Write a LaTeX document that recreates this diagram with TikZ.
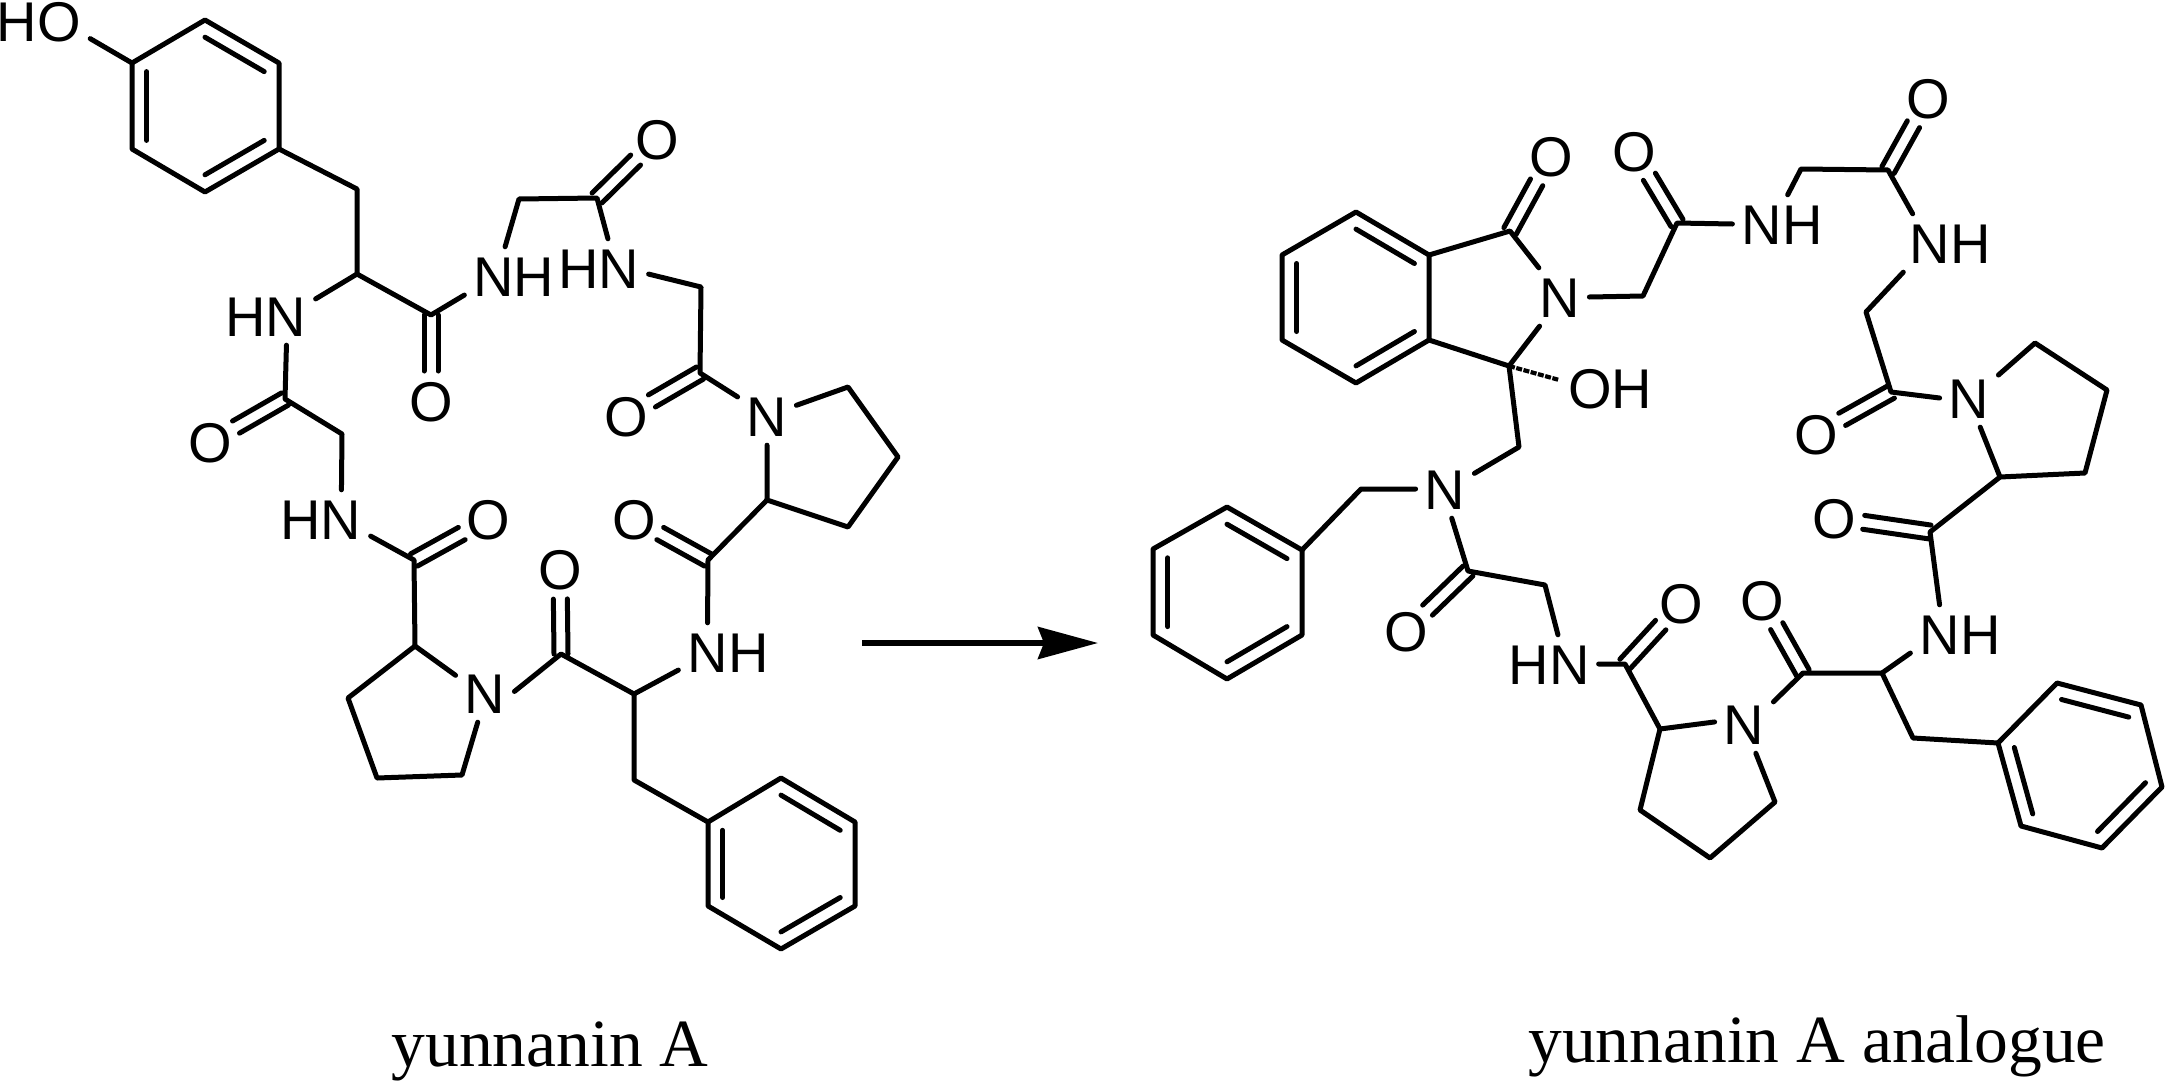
\documentclass[tikz,border=0pt]{standalone}
\usepackage{fontspec}
\setmainfont{Liberation Serif}
\newfontfamily\atomfont{Liberation Sans}
\usepackage{tikz}
\usetikzlibrary{calc}
\usetikzlibrary{arrows.meta}

% Double bond from a carbon to its oxygen
\newcommand{\dbond}[2]{%
	\draw[bond,shorten >=30pt]($(#1)!7pt!90:(#2)$)--($(#2)!7pt!-90:(#1)$);
	\draw[bond,shorten >=30pt]($(#1)!7pt!-90:(#2)$)--($(#2)!7pt!90:(#1)$);}
% Inner line of an aromatic ring, pulled towards the ring centre
\newcommand{\ringline}[3]{\draw[bond]($(#1)!.2!(#3)$)--($(#2)!.2!(#3)$);}

\begin{document}
\begin{tikzpicture}
		[
		x=1pt,y=-1pt,
		bond/.style={line width=5pt,line cap=round,line join=round},
		atom/.style={font=\atomfont\fontsize{56pt}{60pt}\selectfont,inner sep=9pt,text height=40pt,text depth=0pt},
		caption/.style={font=\fontsize{67.5pt}{72pt}\selectfont,anchor=base,inner sep=0pt}
		]
		\useasboundingbox(0,0)rectangle(2165,1081);
		
		% Carbons of yunnanin A
		\foreach \name/\x/\y in {a1/205/20,a2/279/63,a3/279/149,a4/205/192,a5/132/149,a6/132/63,
			a7/357/189,a8/357/274,a9/431/315,a10/519/199,a11/597/198,a12/701/287,a13/700/373,
			a14/767/500,a15/848/387,a16/898/457,a17/848/527,a18/708/560,a19/634/694,a20/561/654,
			a21/415/646,a22/348/698,a23/377/778,a24/462/775,a25/414/560,a26/342/434,a27/285/399,
			a28/634/780,a29/708/822,a30/781/778,a31/855/822,a32/855/906,a33/781/949,a34/708/906}
			\coordinate(\name)at(\x,\y);
		% Carbons of the analogue
		\foreach \name/\x/\y in {b1/1356/212,b2/1429/255,b3/1429/340,b4/1356/383,b5/1282/340,b6/1282/255,
			b7/1510/231,b8/1509/366,b9/1519/447,b10/1643/296,b11/1677/223,b12/1801/169,b13/1888/170,
			b14/1866/312,b15/1891/392,b16/2035/343,b17/2107/390,b18/2085/473,b19/2000/477,b20/1930/532,
			b21/1882/673,b22/1803/673,b23/1660/729,b24/1640/810,b25/1710/858,b26/1775/802,b27/1625/664,
			b28/1545/585,b29/1468/571,b30/1361/489,b31/1302/550,b32/1227/507,b33/1153/549,b34/1153/635,
			b35/1227/679,b36/1302/635,b37/1913/738,b38/1998/743,b39/2057/683,b40/2141/705,b41/2162/787,
			b42/2102/848,b43/2021/826}
			\coordinate(\name)at(\x,\y);
		
		% Ring centres
		\coordinate(ac1)at($(a1)!.5!(a4)$);
		\coordinate(ac2)at($(a30)!.5!(a33)$);
		\coordinate(bc1)at($(b1)!.5!(b4)$);
		\coordinate(bc2)at($(b32)!.5!(b35)$);
		\coordinate(bc3)at($(b39)!.5!(b42)$);
		
		% Nitrogen and hydroxyl labels
		\foreach \name/\x/\y/\txt in {ho/39/22/HO,an1/514/276/NH,an2/599/268/HN,an3/266/316/HN,
			an4/321/519/HN,an5/485/693/N,an6/728/652/NH,an7/767/416/N,
			bn1/1560/297/N,bn2/1782/224/NH,bn3/1950/243/NH,bn4/1969/398/N,bn5/1960/634/NH,
			bn6/1744/724/N,bn7/1549/664/HN,bn8/1445/489/N,oh/1610/388/OH}
			\node[atom](\name)at(\x,\y){\txt};
		
		% Carbonyl oxygens
		\foreach \name/\x/\y/\c in {ao1/431/401/a9,ao2/657/139/a11,ao3/626/416/a13,ao4/634/519/a18,
			ao5/560/569/a20,ao6/488/519/a25,ao7/210/442/a27,
			bo1/1551/156/b7,bo2/1634/151/b11,bo3/1928/98/b13,bo4/1816/434/b15,bo5/1834/518/b20,
			bo6/1762/600/b22,bo7/1681/603/b27,bo8/1406/631/b29}
			{\node[atom](\name)at(\x,\y){O};
			\dbond{\c}{\name}}
		
		% yunnanin A: rings
		\draw[bond](a1)--(a2)--(a3)--(a4)--(a5)--(a6)--cycle;
		\ringline{a1}{a2}{ac1}
		\ringline{a3}{a4}{ac1}
		\ringline{a5}{a6}{ac1}
		\draw[bond](a29)--(a30)--(a31)--(a32)--(a33)--(a34)--cycle;
		\ringline{a30}{a31}{ac2}
		\ringline{a32}{a33}{ac2}
		\ringline{a34}{a29}{ac2}
		\draw[bond](an7.20)--(a15)--(a16)--(a17)--(a14)--(an7.270);
		\draw[bond](an5.149)--(a21)--(a22)--(a23)--(a24)--(an5.256);
		% yunnanin A: backbone
		\draw[bond](ho.342)--(a6);
		\draw[bond](a3)--(a7)--(a8)--(a9)--(an1.201);
		\draw[bond](a8)--(an3.19);
		\draw[bond](an3.305)--(a27)--(a26)--(an4.55);
		\draw[bond](an1.107)--(a10)--(a11)--(an2.73);
		\draw[bond](an2.353)--(a12)--(a13)--(an7.147);
		\draw[bond](a14)--(a18)--(an6.125);
		\draw[bond](an6.200)--(a19)--(a20)--(an5.3);
		\draw[bond](a19)--(a28)--(a29);
		\draw[bond](an4.341)--(a25)--(a21);
		
		% Arrow
		\coordinate(arrstart)at(862,643);
		\coordinate(arrend)at(1098,643);
		\draw[line width=5.5pt,-{Stealth[length=60pt,width=32pt,inset=6pt]}](arrstart)--(arrend);
		
		% Analogue: rings
		\draw[bond](b1)--(b2)--(b3)--(b4)--(b5)--(b6)--cycle;
		\ringline{b1}{b2}{bc1}
		\ringline{b3}{b4}{bc1}
		\ringline{b5}{b6}{bc1}
		\draw[bond](b2)--(b7)--(bn1.126);
		\draw[bond](b3)--(b8)--(bn1.235);
		\draw[bond](b31)--(b32)--(b33)--(b34)--(b35)--(b36)--cycle;
		\ringline{b31}{b32}{bc2}
		\ringline{b33}{b34}{bc2}
		\ringline{b35}{b36}{bc2}
		\draw[bond](b38)--(b39)--(b40)--(b41)--(b42)--(b43)--cycle;
		\ringline{b39}{b40}{bc3}
		\ringline{b41}{b42}{bc3}
		\ringline{b43}{b38}{bc3}
		\draw[bond](bn4.38)--(b16)--(b17)--(b18)--(b19)--(bn4.291);
		\draw[bond](bn6.176)--(b23)--(b24)--(b25)--(b26)--(bn6.292);
		% Analogue: backbone
		\draw[line width=4.2pt,dash pattern=on 6pt off 1.5pt](b8)--(oh.171);
		\draw[bond](b8)--(b9)--(bn8.28);
		\draw[bond](bn8.180)--(b30)--(b31);
		\draw[bond](bn8.283)--(b29)--(b28)--(bn7.73);
		\draw[bond](bn7.0)--(b27)--(b23);
		\draw[bond](bn6.37)--(b22)--(b21)--(bn5.201);
		\draw[bond](b21)--(b37)--(b38);
		\draw[bond](bn5.125)--(b20)--(b19);
		\draw[bond](bn4.180)--(b15)--(b14)--(bn3.212);
		\draw[bond](bn3.142)--(b13)--(b12)--(bn2.79);
		\draw[bond](bn2.180)--(b11)--(b10)--(bn1.0);
		
		% Names of the compounds
		\node[caption](nameA)at(550,1066){yunnanin A};
		\node[caption](nameB)at(1817,1062){yunnanin A analogue};
		\end{tikzpicture}
\end{document}
